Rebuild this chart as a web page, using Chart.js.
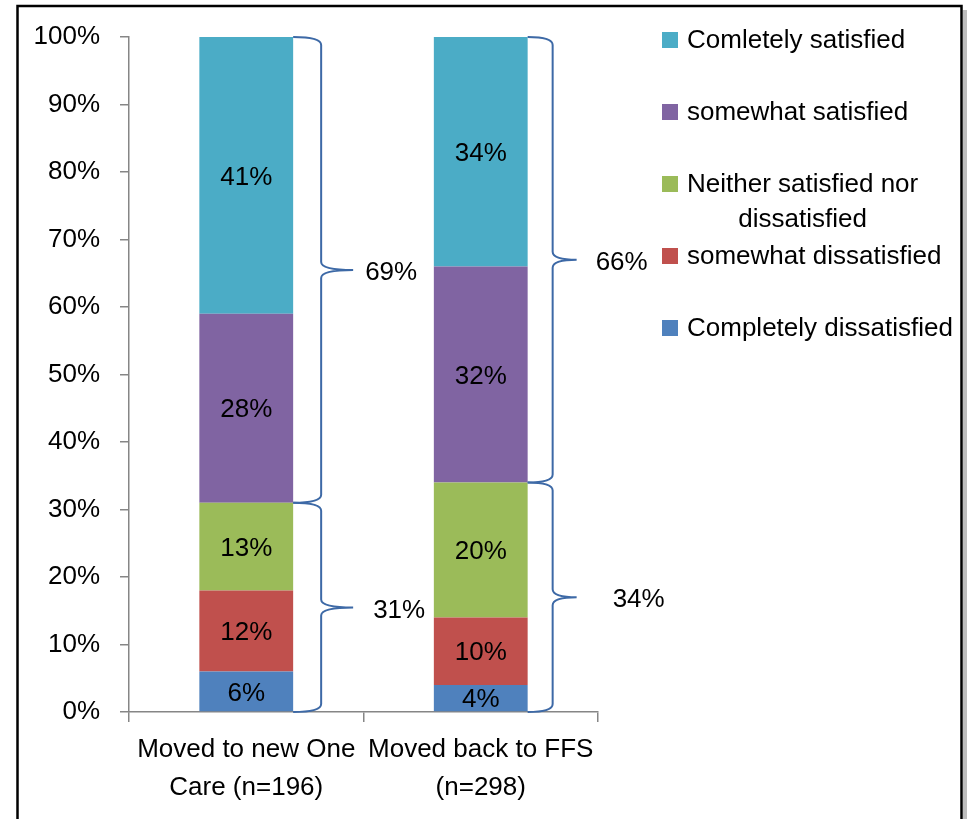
<!DOCTYPE html>
<html>
<head>
<meta charset="utf-8">
<script src="https://cdn.jsdelivr.net/npm/chart.js@4/dist/chart.umd.min.js"></script>
<style>
html,body{margin:0;padding:0;background:#fff;}
#wrap{position:relative;width:967px;height:819px;}
</style>
</head>
<body>
<div id="wrap"><canvas id="c" width="967" height="819"></canvas></div>
<script>
// ---- data ----
const categories = [['Moved to new One', 'Care (n=196)'], ['Moved back to FFS', '(n=298)']];
const seriesNames = ['Completely dissatisfied', 'somewhat dissatisfied', 'Neither satisfied nor dissatisfied', 'somewhat satisfied', 'Comletely satisfied'];
const completelyDissatisfied = [6, 4];
const somewhatDissatisfied = [12, 10];
const neitherSatisfied = [13, 20];
const somewhatSatisfied = [28, 32];
const completelySatisfied = [41, 34];
const satisfiedTotals = [69, 66];
const otherTotals = [31, 34];
const yTicks = [0, 10, 20, 30, 40, 50, 60, 70, 80, 90, 100];

const colors = ['#4F81BD', '#C0504D', '#9BBB59', '#8064A2', '#4BACC6'];
const FONT = '"Liberation Sans", Arial, sans-serif';
const FS = 26;

const seriesValues = [completelyDissatisfied, somewhatDissatisfied, neitherSatisfied, somewhatSatisfied, completelySatisfied];

const datasets = seriesValues.map((vals, i) => ({
  label: seriesNames[i],
  data: vals,
  backgroundColor: colors[i],
  borderWidth: 0,
  barPercentage: 0.4,
  categoryPercentage: 1.0
}));

// frame + shadow
const framePlugin = {
  id: 'frame',
  beforeDraw(chart) {
    const ctx = chart.ctx;
    ctx.save();
    ctx.fillStyle = '#fff';
    ctx.fillRect(0, 0, chart.width, chart.height);
    ctx.fillStyle = '#bdbdbd';
    ctx.fillRect(963, 10, 4, 819);
    ctx.strokeStyle = '#000';
    ctx.lineWidth = 2.5;
    ctx.beginPath();
    ctx.moveTo(17.5, 830);
    ctx.lineTo(17.5, 6);
    ctx.lineTo(961.5, 6);
    ctx.lineTo(961.5, 830);
    ctx.stroke();
    ctx.restore();
  }
};

// value labels inside segments
const valueLabels = {
  id: 'valueLabels',
  afterDatasetsDraw(chart) {
    const ctx = chart.ctx;
    ctx.save();
    ctx.font = FS + 'px ' + FONT;
    ctx.fillStyle = '#000';
    ctx.textAlign = 'center';
    ctx.textBaseline = 'middle';
    chart.data.datasets.forEach((ds, di) => {
      const meta = chart.getDatasetMeta(di);
      meta.data.forEach((el, i) => {
        const v = ds.data[i];
        ctx.fillText(v + '%', el.x, (el.y + el.base) / 2 + 2);
      });
    });
    ctx.restore();
  }
};

// braces
const braceOffsets = [{spine: 28, tip: 60, lab1: 12, lab2: 20}, {spine: 25, tip: 49, lab1: 19, lab2: 36}];
function drawBrace(ctx, xb, xs, xt, yTop, yBot) {
  const h = 8;
  const ym = (yTop + yBot) / 2;
  ctx.beginPath();
  ctx.moveTo(xb, yTop);
  ctx.quadraticCurveTo(xs, yTop, xs, yTop + h);
  ctx.lineTo(xs, ym - h);
  ctx.quadraticCurveTo(xs, ym, xt, ym);
  ctx.moveTo(xt, ym);
  ctx.quadraticCurveTo(xs, ym, xs, ym + h);
  ctx.lineTo(xs, yBot - h);
  ctx.quadraticCurveTo(xs, yBot, xb, yBot);
  ctx.stroke();
  return ym;
}
const bracePlugin = {
  id: 'braces',
  afterDatasetsDraw(chart) {
    const ctx = chart.ctx;
    const y = chart.scales.y;
    const meta = chart.getDatasetMeta(0);
    ctx.save();
    ctx.strokeStyle = '#3D69A6';
    ctx.lineWidth = 2;
    ctx.font = FS + 'px ' + FONT;
    ctx.fillStyle = '#000';
    ctx.textAlign = 'left';
    ctx.textBaseline = 'middle';
    meta.data.forEach((el, i) => {
      const o = braceOffsets[i];
      const xb = el.x + el.width / 2;
      const xs = xb + o.spine, xt = xb + o.tip;
      const split = completelyDissatisfied[i] + somewhatDissatisfied[i] + neitherSatisfied[i];
      const yTop = y.getPixelForValue(100);
      const ySplit = y.getPixelForValue(split);
      const yBot = y.getPixelForValue(0);
      const m1 = drawBrace(ctx, xb, xs, xt, yTop, ySplit);
      const m2 = drawBrace(ctx, xb, xs, xt, ySplit, yBot);
      ctx.fillText(satisfiedTotals[i] + '%', xt + o.lab1, m1 + 3);
      ctx.fillText(otherTotals[i] + '%', xt + o.lab2, m2 + 3);
    });
    ctx.restore();
  }
};

// custom legend (top series first)
const legendPlugin = {
  id: 'customLegend',
  afterDraw(chart) {
    const ctx = chart.ctx;
    ctx.save();
    ctx.font = FS + 'px ' + FONT;
    ctx.textBaseline = 'middle';
    const order = [4, 3, 2, 1, 0];
    const lines = {2: ['Neither satisfied nor', 'dissatisfied']};
    order.forEach((di, k) => {
      const cy = 40 + k * 72;
      ctx.fillStyle = colors[di];
      ctx.fillRect(662, cy - 8, 16, 16);
      ctx.fillStyle = '#000';
      const ls = lines[di] || [seriesNames[di]];
      if (ls.length === 1) {
        ctx.textAlign = 'left';
        ctx.fillText(ls[0], 687, cy + 1);
      } else {
        const w0 = ctx.measureText(ls[0]).width;
        const cx = 687 + w0 / 2;
        ctx.textAlign = 'center';
        ls.forEach((t, j) => ctx.fillText(t, cx, cy + 1 + j * 35));
      }
    });
    ctx.restore();
  }
};

new Chart(document.getElementById('c'), {
  type: 'bar',
  data: { labels: categories, datasets },
  plugins: [framePlugin, valueLabels, bracePlugin, legendPlugin],
  options: {
    responsive: false,
    animation: false,
    layout: { padding: { top: 37, right: 369, left: 0, bottom: 0 } },
    plugins: { legend: { display: false }, tooltip: { enabled: false } },
    scales: {
      x: {
        stacked: true,
        afterFit(s) { s.height = 107; },
        grid: { offset: true, drawOnChartArea: false, tickLength: 10, color: '#868686', lineWidth: 1.5 },
        border: { color: '#868686', width: 1.5 },
        ticks: { color: '#000', padding: 9, font: { family: FONT, size: FS, lineHeight: 1.45 }, maxRotation: 0, autoSkip: false }
      },
      y: {
        stacked: true,
        min: 0, max: 100,
        afterFit(s) { s.width = 129; },
        afterBuildTicks(s) { s.ticks = yTicks.map(v => ({ value: v })); },
        grid: { drawOnChartArea: false, tickLength: 9, color: '#868686', lineWidth: 1.5 },
        border: { color: '#868686', width: 1.5 },
        ticks: { color: '#000', padding: 20, font: { family: FONT, size: FS }, callback: v => v + '%' }
      }
    }
  }
});
</script>
</body>
</html>
